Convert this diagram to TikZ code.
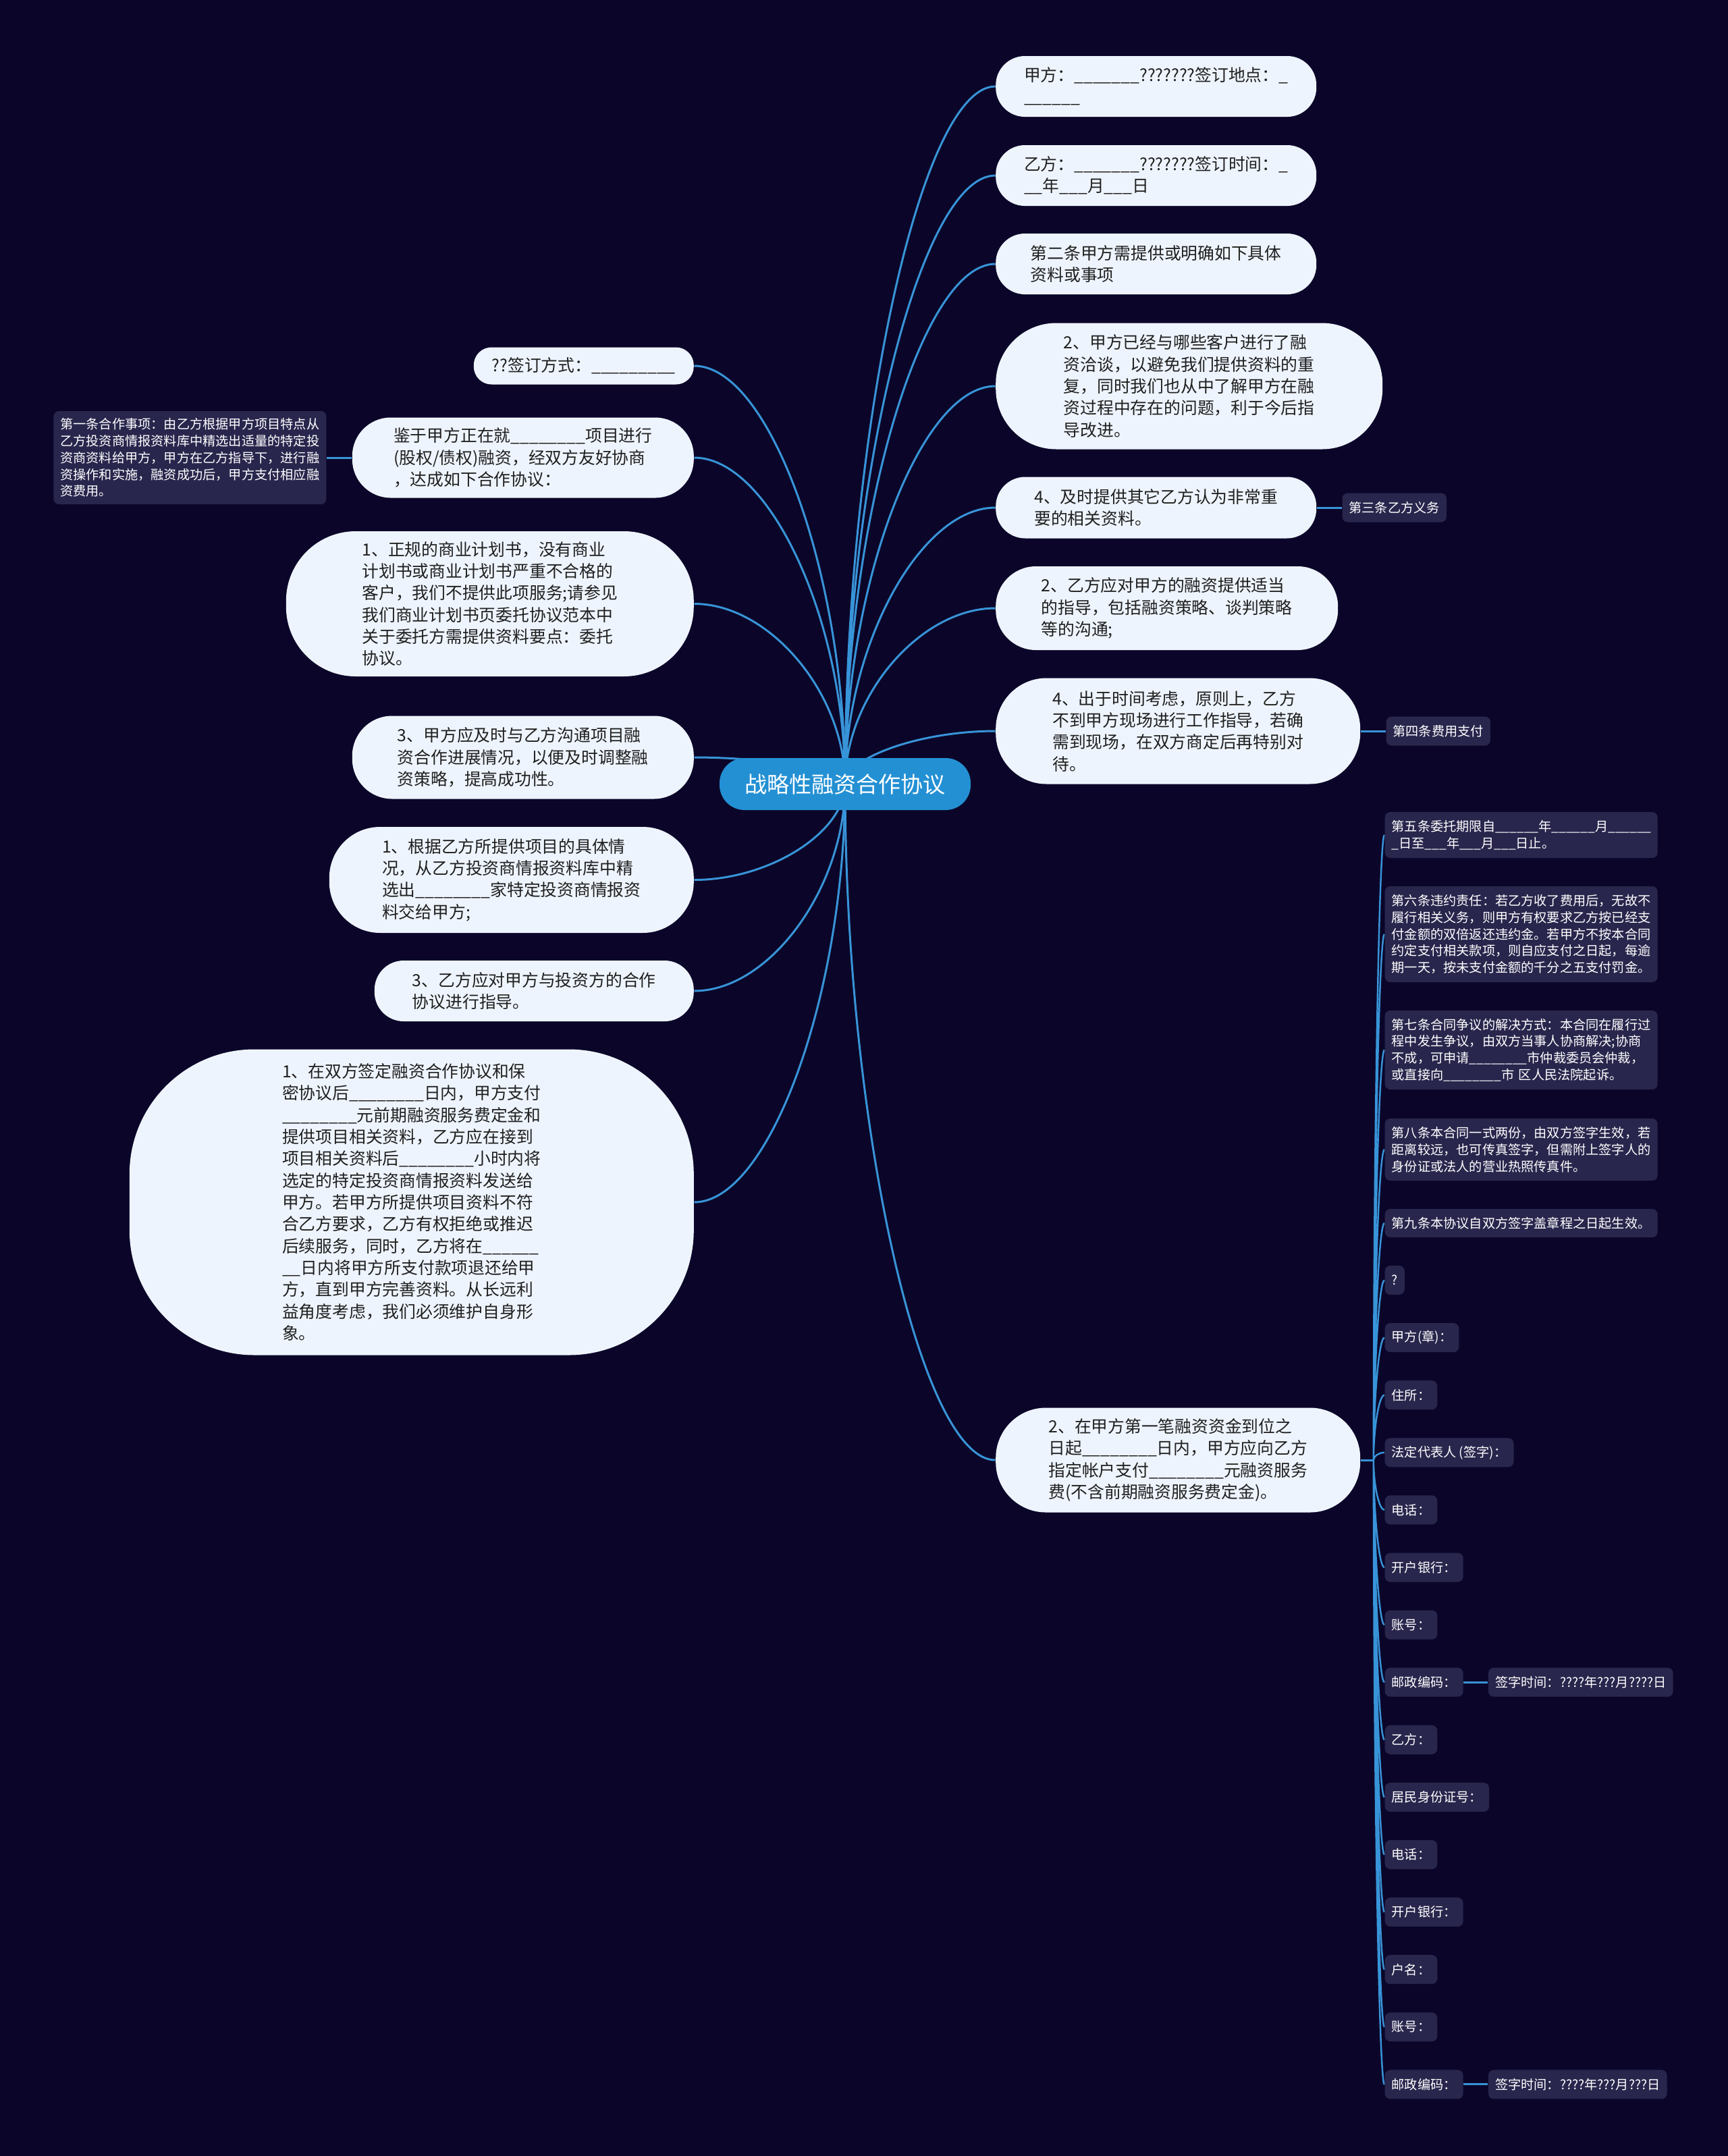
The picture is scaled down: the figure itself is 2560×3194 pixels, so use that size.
\documentclass[tikz,border=0pt]{standalone}
\usepackage{fontspec}
\setmainfont{Noto Sans CJK SC}
\usepackage{tikz}
\usetikzlibrary{positioning,calc,backgrounds}

\definecolor{night}{RGB}{11,6,41}
\definecolor{paper}{RGB}{238,244,253}
\definecolor{ink}{RGB}{31,31,31}
\definecolor{slate}{RGB}{41,38,77}
\definecolor{sky}{RGB}{36,144,212}
\definecolor{wire}{RGB}{56,148,216}

\newcommand{\leaffont}{\fontsize{7.05pt}{9.2pt}\selectfont}
\newcommand{\notefont}{\fontsize{5.46pt}{7.05pt}\selectfont}
\newcommand{\topicfont}{\fontsize{9.4pt}{11pt}\selectfont}
\newcommand{\blanks}[1]{\ifnum#1>0 \_\blanks{\numexpr#1-1\relax}\fi}

\begin{document}
\begin{tikzpicture}[
  x=0.1mm, y=-0.1mm,
  node distance=3.7mm,
  topic/.style={fill=sky, text=white, font=\topicfont, inner sep=0pt,
    minimum width=37.2mm, minimum height=7.7mm, rounded corners=3.7mm},
  leaf/.style 2 args={fill=paper, text=ink, font=\leaffont, align=left, inner sep=0pt,
    minimum width=#1mm, minimum height=#2mm, rounded corners=0.48*#2mm},
  note/.style={fill=slate, text=white, font=\notefont, align=left,
    inner xsep=1mm, inner ysep=0pt, minimum height=4.3mm, rounded corners=0.8mm},
  link/.style={draw=wire, line width=0.85pt},
  twig/.style={draw=wire, line width=0.7pt},
  branch/.style={to path={.. controls ($(\tikztostart)!0.5!(\tikztostart|-\tikztotarget)$)
    and ($(\tikztotarget)!0.5!(\tikztostart|-\tikztotarget)$) .. (\tikztotarget)}},
]
% Main topic.
\node[topic] (Root) at (1252,1161.5) {战略性融资合作协议};

% Leaves on the right.
\node[leaf={47.5}{9.0}, anchor=west] (R1) at (1474.5,128) {甲方：\blanks{7}???????签订地点：\_\\\blanks{6}};
\node[leaf={47.5}{9.0}, anchor=west] (R2) at (1474.5,260) {乙方：\blanks{7}???????签订时间：\_\\\blanks{2}年\blanks{3}月\blanks{3}日};
\node[leaf={47.5}{9.0}, anchor=west] (R3) at (1474.5,391) {第二条甲方需提供或明确如下具体\\资料或事项};
\node[leaf={57.3}{18.7}, anchor=west] (R4) at (1474.5,572) {2、甲方已经与哪些客户进行了融\\资洽谈，以避免我们提供资料的重\\复，同时我们也从中了解甲方在融\\资过程中存在的问题，利于今后指\\导改进。};
\node[leaf={47.5}{9.1}, anchor=west] (R5) at (1474.5,752) {4、及时提供其它乙方认为非常重\\要的相关资料。};
\node[leaf={50.7}{12.4}, anchor=west] (R6) at (1474.5,901) {2、乙方应对甲方的融资提供适当\\的指导，包括融资策略、谈判策略\\等的沟通;};
\node[leaf={54.0}{15.7}, anchor=west] (R7) at (1474.5,1083) {4、出于时间考虑，原则上，乙方\\不到甲方现场进行工作指导，若确\\需到现场，在双方商定后再特别对\\待。};
\node[leaf={54.0}{15.5}, anchor=west] (R8) at (1474.5,2163) {2、在甲方第一笔融资资金到位之\\日起\blanks{8}日内，甲方应向乙方\\指定帐户支付\blanks{8}元融资服务\\费(不含前期融资服务费定金)。};
\node[note, right=of R5] (N3) {第三条乙方义务};
\node[note, right=of R7] (N4) {第四条费用支付};

% Leaves on the left.
\node[leaf={32.6}{5.5}, anchor=east] (L1) at (1028.5,542) {??签订方式：\blanks{9}};
\node[leaf={50.6}{11.9}, anchor=east] (L2) at (1028.5,678) {鉴于甲方正在就\blanks{8}项目进行\\(股权/债权)融资，经双方友好协商\\，达成如下合作协议：};
\node[leaf={60.4}{21.5}, anchor=east] (L3) at (1028.5,894.5) {1、正规的商业计划书，没有商业\\计划书或商业计划书严重不合格的\\客户，我们不提供此项服务;请参见\\我们商业计划书页委托协议范本中\\关于委托方需提供资料要点：委托\\协议。};
\node[leaf={50.6}{12.3}, anchor=east] (L4) at (1028.5,1122) {3、甲方应及时与乙方沟通项目融\\资合作进展情况，以便及时调整融\\资策略，提高成功性。};
\node[leaf={54.0}{15.7}, anchor=east] (L5) at (1028.5,1303.5) {1、根据乙方所提供项目的具体情\\况，从乙方投资商情报资料库中精\\选出\blanks{8}家特定投资商情报资\\料交给甲方;};
\node[leaf={47.3}{9.0}, anchor=east] (L6) at (1028.5,1468) {3、乙方应对甲方与投资方的合作\\协议进行指导。};
\node[leaf={83.6}{45.3}, rounded corners=18.5mm, anchor=east] (L7) at (1028.5,1781) {1、在双方签定融资合作协议和保\\密协议后\blanks{8}日内，甲方支付\\\blanks{8}元前期融资服务费定金和\\提供项目相关资料，乙方应在接到\\项目相关资料后\blanks{8}小时内将\\选定的特定投资商情报资料发送给\\甲方。若甲方所提供项目资料不符\\合乙方要求，乙方有权拒绝或推迟\\后续服务，同时，乙方将在\blanks{6}\\\blanks{2}日内将甲方所支付款项退还给甲\\方，直到甲方完善资料。从长远利\\益角度考虑，我们必须维护自身形\\象。};
\node[note, text width=38.4mm, minimum height=13.8mm, left=of L2] (N1) {第一条合作事项：由乙方根据甲方项目特点从\\乙方投资商情报资料库中精选出适量的特定投\\资商资料给甲方，甲方在乙方指导下，进行融\\资操作和实施，融资成功后，甲方支付相应融\\资费用。};

% Clauses under the second payment item.
\coordinate[right=1.9mm of R8] (hub);
\node[note, text width=38.4mm, minimum height=6.8mm, anchor=west] (K1) at (2051,1237) {第五条委托期限自\blanks{6}年\blanks{6}月\blanks{6}\\\_日至\blanks{3}年\blanks{3}月\blanks{3}日止。};
\node[note, text width=38.4mm, minimum height=14.2mm, anchor=west] (K2) at (2051,1384) {第六条违约责任：若乙方收了费用后，无故不\\履行相关义务，则甲方有权要求乙方按已经支\\付金额的双倍返还违约金。若甲方不按本合同\\约定支付相关款项，则自应支付之日起，每逾\\期一天，按未支付金额的千分之五支付罚金。};
\node[note, text width=38.4mm, minimum height=11.7mm, anchor=west] (K3) at (2051,1555.5) {第七条合同争议的解决方式：本合同在履行过\\程中发生争议，由双方当事人协商解决;协商\\不成，可申请\blanks{8}市仲裁委员会仲裁，\\或直接向\blanks{8}市 区人民法院起诉。};
\node[note, text width=38.4mm, minimum height=9.2mm, anchor=west] (K4) at (2051,1703) {第八条本合同一式两份，由双方签字生效，若\\距离较远，也可传真签字，但需附上签字人的\\身份证或法人的营业热照传真件。};
\node[note, text width=38.4mm, minimum height=4.2mm, anchor=west] (K5) at (2051,1812) {第九条本协议自双方签字盖章程之日起生效。};
\node[note, anchor=west] (K6) at (2051,1896.5) {?};
\node[note, anchor=west] (K7) at (2051,1981.6) {甲方(章)：};
\node[note, anchor=west] (K8) at (2051,2066.7) {住所：};
\node[note, anchor=west] (K9) at (2051,2151.8) {法定代表人 (签字)：};
\node[note, anchor=west] (K10) at (2051,2236.9) {电话：};
\node[note, anchor=west] (K11) at (2051,2322.0) {开户银行：};
\node[note, anchor=west] (K12) at (2051,2407.1) {账号：};
\node[note, anchor=west] (K13) at (2051,2492.2) {邮政编码：};
\node[note, anchor=west] (K14) at (2051,2577.3) {乙方：};
\node[note, anchor=west] (K15) at (2051,2662.4) {居民身份证号：};
\node[note, anchor=west] (K16) at (2051,2747.5) {电话：};
\node[note, anchor=west] (K17) at (2051,2832.6) {开户银行：};
\node[note, anchor=west] (K18) at (2051,2917.7) {户名：};
\node[note, anchor=west] (K19) at (2051,3002.8) {账号：};
\node[note, anchor=west] (K20) at (2051,3087.9) {邮政编码：};
\node[note, right=3.6mm of K13] (S1) {签字时间：????年???月????日};
\node[note, right=3.6mm of K20] (S2) {签字时间：????年???月???日};

% Connectors, under the boxes.
\begin{scope}[on background layer]
  \fill[night] (0,0) rectangle (2560,3194);
  \draw[link] (Root.center) to[branch] (R1.west) (Root.center) to[branch] (R2.west)
    (Root.center) to[branch] (R3.west) (Root.center) to[branch] (R4.west)
    (Root.center) to[branch] (R5.west) (Root.center) to[branch] (R6.west)
    (Root.center) to[branch] (R7.west) (Root.center) to[branch] (R8.west);
  \draw[link] (Root.center) to[branch] (L1.east) (Root.center) to[branch] (L2.east)
    (Root.center) to[branch] (L3.east) (Root.center) to[branch] (L4.east)
    (Root.center) to[branch] (L5.east) (Root.center) to[branch] (L6.east)
    (Root.center) to[branch] (L7.east);
  \draw[link] (R5) -- (N3);
  \draw[link] (R7) -- (N4);
  \draw[link] (L2) -- (N1);
  \draw[link] (R8.east) -- (hub);
  \draw[twig] (hub) to[branch] (K1.west) (hub) to[branch] (K2.west) (hub) to[branch] (K3.west)
    (hub) to[branch] (K4.west) (hub) to[branch] (K5.west) (hub) to[branch] (K6.west)
    (hub) to[branch] (K7.west) (hub) to[branch] (K8.west) (hub) to[branch] (K9.west)
    (hub) to[branch] (K10.west) (hub) to[branch] (K11.west) (hub) to[branch] (K12.west)
    (hub) to[branch] (K13.west) (hub) to[branch] (K14.west) (hub) to[branch] (K15.west)
    (hub) to[branch] (K16.west) (hub) to[branch] (K17.west) (hub) to[branch] (K18.west)
    (hub) to[branch] (K19.west) (hub) to[branch] (K20.west);
  \draw[link] (K13) -- (S1);
  \draw[link] (K20) -- (S2);
\end{scope}
\end{tikzpicture}
\end{document}
